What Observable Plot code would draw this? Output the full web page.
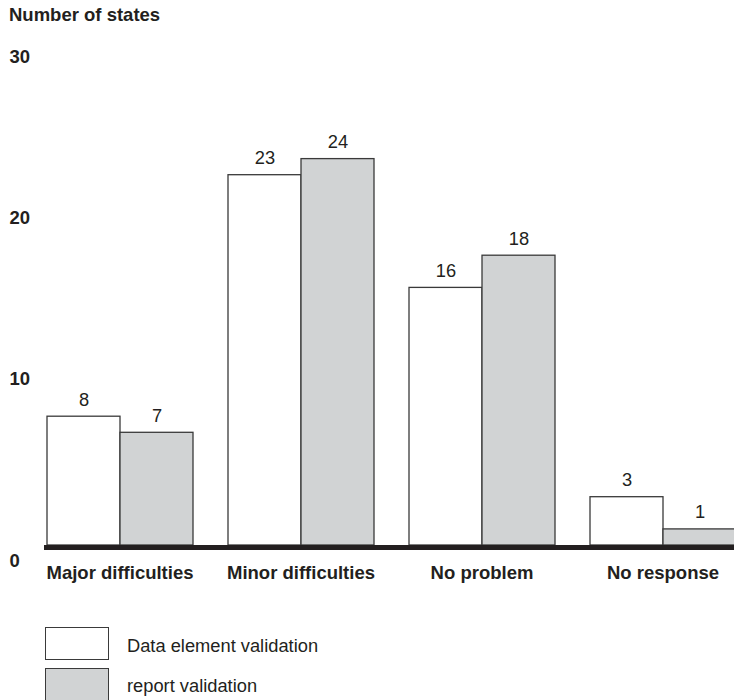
<!DOCTYPE html>
<html>
<head>
<meta charset="utf-8">
<script src="https://cdn.jsdelivr.net/npm/d3@7"></script>
<script src="https://cdn.jsdelivr.net/npm/@observablehq/plot@0.6"></script>
<style>
  html, body { margin: 0; padding: 0; background: #fff; overflow: hidden; }
  body { width: 734px; height: 700px; position: relative; font-family: "Liberation Sans", Arial, sans-serif; color: #231f20; }
  #title { position: absolute; left: 9px; top: 6px; font-size: 18.5px; line-height: 18px; font-weight: bold; white-space: nowrap; }
  #chart { position: absolute; left: 0; top: 0; }
  .key { position: absolute; left: 45px; width: 64px; height: 33px; box-sizing: border-box; border: 1.3px solid #3a3a3a; }
  .key-label { position: absolute; left: 127px; font-size: 18.3px; line-height: 18px; white-space: nowrap; }
</style>
</head>
<body>
<div id="title">Number of states</div>
<div id="chart"></div>
<div id="legend"></div>
<script>
// Survey responses: how states rated the difficulty of each validation type
const categories = ["Major difficulties", "Minor difficulties", "No problem", "No response"];
const series = ["Data element validation", "report validation"];
const dataElementValidation = [8, 23, 16, 3];
const reportValidation = [7, 24, 18, 1];
const yTicks = [10, 20, 30];
const seriesFill = ["#ffffff", "#d1d3d4"];

const rows = categories.flatMap((cat, i) => [
  {cat, series: series[0], value: dataElementValidation[i]},
  {cat, series: series[1], value: reportValidation[i]}
]);

const ink = "#231f20";

const chart = Plot.plot({
  width: 734,
  height: 610,
  marginLeft: 46,
  marginRight: -2,
  marginTop: 62,
  marginBottom: 65,
  style: {fontFamily: "'Liberation Sans', Arial, sans-serif", fontSize: "18px", color: ink, background: "transparent", overflow: "visible"},
  fx: {domain: categories, paddingInner: 0.188, paddingOuter: 0, label: null},
  x: {domain: series, padding: 0, axis: null},
  y: {domain: [0, 30], axis: null},
  color: {domain: series, range: seriesFill},
  marks: [
    Plot.barY(rows, {fx: "cat", x: "series", y: "value", fill: "series", stroke: "#3a3a3a", strokeWidth: 1.3}),
    Plot.text(rows, {fx: "cat", x: "series", y: "value", text: "value", lineAnchor: "bottom", dy: -11, fill: ink, fontSize: 18.3}),
    Plot.axisY({ticks: yTicks, tickSize: 0, tickPadding: 0, textAnchor: "start", dx: -37, lineAnchor: "bottom", fontWeight: "bold", fontSize: 18.5, fill: ink, label: null}),
    Plot.axisY({ticks: [0], tickSize: 0, tickPadding: 0, textAnchor: "start", dx: -37, lineAnchor: "top", dy: 8, fontWeight: "bold", fontSize: 18.5, fill: ink, label: null}),
    Plot.axisFx({anchor: "bottom", tickSize: 0, tickPadding: 20, fontWeight: "bold", fontSize: 18.5, fill: ink, label: null}),
    // continuous baseline running under all groups
    Plot.frame({anchor: "bottom", facet: "super", stroke: ink, strokeWidth: 5, dy: 2})
  ]
});
document.getElementById("chart").appendChild(chart);

// Legend below the chart
const legend = document.getElementById("legend");
series.forEach((name, i) => {
  const box = document.createElement("div");
  box.className = "key";
  box.style.top = (627 + i * 41) + "px";
  box.style.background = seriesFill[i];
  legend.appendChild(box);
  const label = document.createElement("div");
  label.className = "key-label";
  label.style.top = (637 + i * 40) + "px";
  label.textContent = name;
  legend.appendChild(label);
});
</script>
</body>
</html>
